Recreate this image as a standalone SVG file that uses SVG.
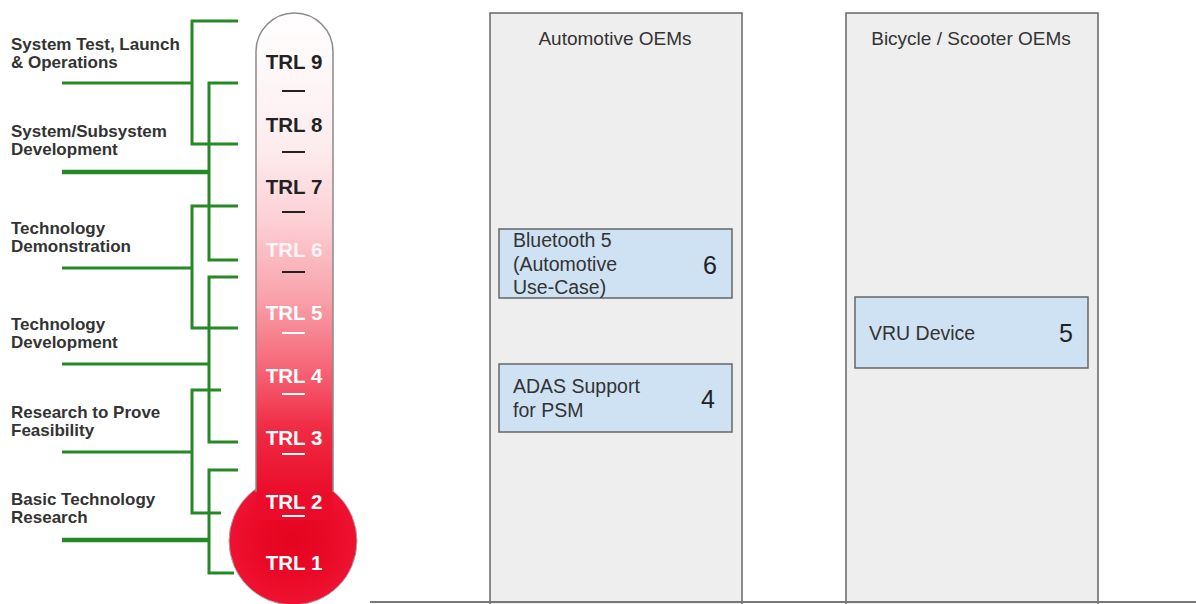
<svg xmlns="http://www.w3.org/2000/svg" width="1196" height="604" viewBox="0 0 1196 604">
<defs>
<linearGradient id="tube" x1="0" y1="13" x2="0" y2="495" gradientUnits="userSpaceOnUse">
<stop offset="0" stop-color="#ffffff"/>
<stop offset="0.28" stop-color="#fdecee"/>
<stop offset="0.43" stop-color="#fcd0d5"/>
<stop offset="0.59" stop-color="#f9a2ab"/>
<stop offset="0.74" stop-color="#f66476"/>
<stop offset="0.86" stop-color="#f02c44"/>
<stop offset="1" stop-color="#ea0c2a"/>
</linearGradient>
<radialGradient id="bulb" cx="0.5" cy="0.5" r="0.5">
<stop offset="0" stop-color="#e4041f"/>
<stop offset="0.6" stop-color="#ea0a28"/>
<stop offset="1" stop-color="#ef1232"/>
</radialGradient>
<style>
.lbl{font-family:"Liberation Sans",Arial,sans-serif;font-weight:bold;font-size:17px;fill:#333}
.trl{font-family:"Liberation Sans",Arial,sans-serif;font-weight:bold;font-size:20.5px;text-anchor:middle}
.dk{fill:#222}
.wt{fill:#ffffff}
.dash{stroke-width:2}
.col{fill:#eeeeee;stroke:#666;stroke-width:1.5}
.ttl{font-family:"Liberation Sans",Arial,sans-serif;font-size:19px;fill:#333;text-anchor:middle}
.box{fill:#cfe2f3;stroke:#666;stroke-width:1.5}
.bt{font-family:"Liberation Sans",Arial,sans-serif;font-size:19.5px;fill:#333}
.num{font-family:"Liberation Sans",Arial,sans-serif;font-size:25px;fill:#222;text-anchor:middle}
.g{fill:none;stroke:#258a25;stroke-width:3}
.gt{fill:none;stroke:#258a25;stroke-width:4.5}
</style>
</defs>
<rect width="1196" height="604" fill="#ffffff"/>

<g id="columns">
<g id="automotive-oems">
<rect class="col" x="490" y="13" width="252" height="592"/>
<text class="ttl" x="615" y="45">Automotive OEMs</text>
</g>
<g id="bicycle-scooter-oems">
<rect class="col" x="846" y="13" width="252" height="592"/>
<text class="ttl" x="971" y="45">Bicycle / Scooter OEMs</text>
</g>
<line x1="370" y1="602" x2="1196" y2="602" stroke="#777" stroke-width="2"/>
</g>

<g id="bluetooth5">
<rect class="box" x="499" y="229" width="233" height="69"/>
<text class="bt" x="513" y="247">Bluetooth 5</text>
<text class="bt" x="513" y="271">(Automotive</text>
<text class="bt" x="513" y="294">Use-Case)</text>
<text class="num" x="710" y="274">6</text>
</g>
<g id="adas-support">
<rect class="box" x="499" y="364" width="233" height="68"/>
<text class="bt" x="513" y="393">ADAS Support</text>
<text class="bt" x="513" y="417">for PSM</text>
<text class="num" x="708" y="408">4</text>
</g>
<g id="vru-device">
<rect class="box" x="855" y="297" width="233" height="71"/>
<text class="bt" x="869" y="340">VRU Device</text>
<text class="num" x="1066" y="342">5</text>
</g>

<g id="connectors">
<path class="g" d="M238,21 H192 V144 H238"/>
<path class="g" d="M62,83 H192"/>
<path class="g" d="M238,83 H209 V260 H238"/>
<path class="gt" d="M62,172 H209"/>
<path class="g" d="M238,206 H192 V328 H238"/>
<path class="g" d="M62,268 H192"/>
<path class="g" d="M238,277 H209 V442 H238"/>
<path class="g" d="M62,364 H209"/>
<path class="g" d="M221,390 H192 V513 H221"/>
<path class="g" d="M62,452 H192"/>
<path class="g" d="M238,470 H209 V573 H234"/>
<path class="gt" d="M62,540 H209"/>
</g>

<g id="labels">
<text class="lbl" x="11" y="50">System Test, Launch</text>
<text class="lbl" x="11" y="68">&amp; Operations</text>
<text class="lbl" x="11" y="137">System/Subsystem</text>
<text class="lbl" x="11" y="155">Development</text>
<text class="lbl" x="11" y="234">Technology</text>
<text class="lbl" x="11" y="252">Demonstration</text>
<text class="lbl" x="11" y="330">Technology</text>
<text class="lbl" x="11" y="348">Development</text>
<text class="lbl" x="11" y="418">Research to Prove</text>
<text class="lbl" x="11" y="436">Feasibility</text>
<text class="lbl" x="11" y="505">Basic Technology</text>
<text class="lbl" x="11" y="523">Research</text>
</g>

<g id="thermometer">
<circle cx="293" cy="541" r="64" fill="url(#bulb)" stroke="#a8a8a8" stroke-width="1"/>
<path d="M256,520 V51.5 A38.5,38.5 0 0 1 333,51.5 V520 Z" fill="url(#tube)"/>
<path d="M256,492 V51.5 A38.5,38.5 0 0 1 333,51.5 V492" fill="none" stroke="#8a8a8a" stroke-width="1.5"/>
<text class="trl dk" x="294" y="69">TRL 9</text>
<line class="dash" x1="282" y1="91" x2="305" y2="91" stroke="#222"/>
<text class="trl dk" x="294" y="132">TRL 8</text>
<line class="dash" x1="282" y1="152" x2="305" y2="152" stroke="#222"/>
<text class="trl dk" x="294" y="194">TRL 7</text>
<line class="dash" x1="282" y1="212" x2="305" y2="212" stroke="#222"/>
<text class="trl wt" x="294" y="257" fill-opacity="0.85">TRL 6</text>
<line class="dash" x1="282" y1="272" x2="305" y2="272" stroke="#222"/>
<text class="trl wt" x="294" y="320">TRL 5</text>
<line class="dash" x1="282" y1="333" x2="305" y2="333" stroke="#fff"/>
<text class="trl wt" x="294" y="383">TRL 4</text>
<line class="dash" x1="282" y1="394" x2="305" y2="394" stroke="#fff"/>
<text class="trl wt" x="294" y="445">TRL 3</text>
<line class="dash" x1="282" y1="454" x2="305" y2="454" stroke="#fff"/>
<text class="trl wt" x="294" y="509">TRL 2</text>
<line class="dash" x1="282" y1="516" x2="305" y2="516" stroke="#fff"/>
<text class="trl wt" x="294" y="570">TRL 1</text>
</g>
</svg>
